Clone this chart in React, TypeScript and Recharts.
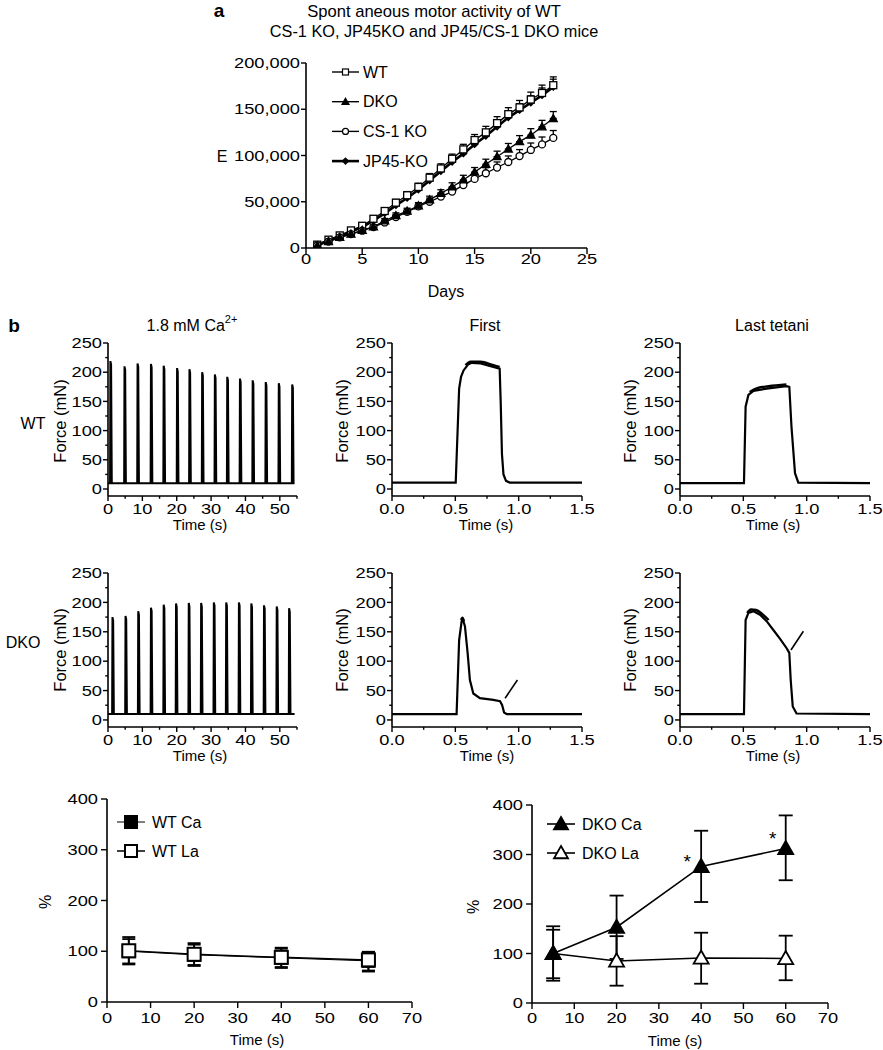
import React from "react";
import { LineChart, Line, XAxis, YAxis, ErrorBar, ReferenceLine } from "recharts";

const FONT = "'Liberation Sans', Arial, Helvetica, sans-serif";

// ---------- panel a : spontaneous motor activity (values in thousands) ----------
const days = [1, 2, 3, 4, 5, 6, 7, 8, 9, 10, 11, 12, 13, 14, 15, 16, 17, 18, 19, 20, 21, 22];
const wtE = [3.6, 9, 13.6, 19, 24, 31.6, 40, 49, 57, 66, 76, 86, 96.5, 106.6, 116.7, 125, 135, 144.7, 152, 160.5, 167.6, 176];
const wtErr = [1, 1.5, 2, 2, 2.5, 3, 3, 3.5, 4, 4, 4.5, 5, 5, 5.5, 6, 6.5, 7, 7, 7.5, 8, 8.5, 9];
const jp45E = [3.2, 8, 12.5, 17.5, 22.5, 29.5, 37.5, 46, 54, 63, 73, 83, 93, 102, 112, 121, 131, 141, 149, 157, 165, 174];
const jp45Err = [1, 1, 1.5, 2, 2, 2.5, 3, 3, 3.5, 4, 4, 4.5, 5, 5, 5.5, 6, 6, 6.5, 7, 7.5, 8, 8.5];
const dkoE = [2.5, 7, 11.5, 15, 19, 23, 29.4, 35, 40, 45.6, 52, 59, 66, 73.6, 82, 90.5, 98.7, 107, 115, 122, 131, 140];
const dkoErr = [0.8, 1, 1.5, 1.5, 2, 2, 2.5, 3, 3, 3.5, 4, 4, 4.5, 5, 5, 5.5, 6, 6, 6.5, 7, 7, 7.5];
const cs1E = [2.9, 7, 11.5, 15, 18.7, 22.6, 27.6, 33.4, 39, 45, 50, 55.6, 61, 68, 74.7, 80.8, 87, 93, 99.4, 106, 112, 119];
const cs1Err = [0.8, 1, 1.5, 1.5, 2, 2, 2.5, 3, 3, 3.5, 4, 4, 4.5, 5, 5.5, 6, 6, 6.5, 7, 7.5, 8, 8];

// ---------- panel b : force traces (mN) ----------
const wtTrainTimes = [0.6, 4.7, 8.5, 12.4, 16.1, 20, 23.6, 27.3, 31, 34.6, 38.3, 42, 45.8, 49.6, 53.5];
const wtTrainPeaks = [219, 210, 215, 214, 211, 207, 205, 200, 196, 192, 189, 186, 183, 181, 179];
const dkoTrainTimes = [1.2, 5, 8.7, 12.4, 16.1, 19.7, 23.4, 27, 30.7, 34.3, 38, 41.6, 45.3, 49, 52.6];
const dkoTrainPeaks = [175, 177, 185, 191, 196, 198, 199, 199, 200, 200, 200, 198, 195, 193, 190];
const trainBase = 10;

const wtFirstT = [0, 0.503, 0.53, 0.545, 0.565, 0.6, 0.63, 0.7, 0.8, 0.85, 0.858, 0.868, 0.88, 0.9, 0.93, 1.5];
const wtFirstF = [11, 11, 172, 192, 203, 213, 216, 215, 209, 206, 150, 60, 25, 14, 11, 11];
const wtFirstBandT = [0.58, 0.62, 0.7, 0.8, 0.85];
const wtFirstBandF = [212, 218, 218, 212, 209];

const wtLastT = [0, 0.505, 0.518, 0.54, 0.58, 0.684, 0.84, 0.863, 0.88, 0.908, 0.934, 1.5];
const wtLastF = [10, 10, 141, 161, 168, 172, 176, 175, 107, 27, 11, 10];
const wtLastBandT = [0.55, 0.6, 0.7, 0.84];
const wtLastBandF = [166, 172, 176, 179];

const dkoFirstT = [0, 0.51, 0.53, 0.55, 0.562, 0.576, 0.597, 0.615, 0.642, 0.694, 0.8, 0.853, 0.869, 0.885, 0.906, 1.5];
const dkoFirstF = [10, 10, 136, 168, 170, 159, 114, 68, 45, 37, 34, 32, 25.6, 12.5, 10, 10];
const dkoFirstBandT = [0.545, 0.556, 0.568];
const dkoFirstBandF = [170, 174, 168];

const dkoLastT = [0, 0.505, 0.518, 0.54, 0.58, 0.632, 0.684, 0.737, 0.79, 0.842, 0.863, 0.874, 0.89, 0.92, 1.5];
const dkoLastF = [10, 10, 170, 182, 185, 179, 168, 153, 138, 122, 114, 68, 23, 11, 10];
const dkoLastBandT = [0.53, 0.56, 0.6, 0.65, 0.7];
const dkoLastBandF = [182, 188, 187, 180, 170];

const arrowDkoFirst = [{ x: 0.893, y: 37 }, { x: 0.99, y: 68 }];
const arrowDkoLast = [{ x: 0.876, y: 119 }, { x: 0.974, y: 151 }];

// ---------- panel c : % change ----------
const cTimes = [5, 20, 40, 60];
const wtCa = [100, 93, 87, 81];
const wtCaErr = [[24, 24], [20, 20], [18, 18], [19, 17]];
const wtLa = [101, 94, 88, 83];
const wtLaErr = [[27, 27], [23, 22], [21, 19], [23, 16]];
const dkoCa = [100, 153, 276, 312];
const dkoCaErr = [[50, 48], [64, 64], [72, 72], [64, 67]];
const dkoLa = [100, 85, 91, 90];
const dkoLaErr = [[55, 55], [50, 50], [52, 51], [44, 46]];
const stars = [{ t: 36.7, v: 296 }, { t: 56.9, v: 343 }];

// ---------- tick sets ----------
const aXTicks = [0, 5, 10, 15, 20, 25];
const aYTicks = [0, 50000, 100000, 150000, 200000];
const forceMajor = [0, 50, 100, 150, 200, 250];
const forceMinor = [25, 75, 125, 175, 225];
const trainMajor = [0, 10, 20, 30, 40, 50];
const trainMinor = [5, 15, 25, 35, 45, 55];
const tetMajor = [0, 0.5, 1, 1.5];
const tetMinor = [0.25, 0.75, 1.25];
const cXTicks = [0, 10, 20, 30, 40, 50, 60, 70];
const cYTicks = [0, 100, 200, 300, 400];

const rowsA = days.map((d, i) => ({
  day: d,
  wt: wtE[i] * 1000, wtErr: [0, wtErr[i] * 1000],
  jp45: jp45E[i] * 1000, jp45Err: [0, jp45Err[i] * 1000],
  dko: dkoE[i] * 1000, dkoErr: [0, dkoErr[i] * 1000],
  cs1: cs1E[i] * 1000, cs1Err: [0, cs1Err[i] * 1000],
}));

const toPts = (ts: number[], fs: number[]) => ts.map((t, i) => ({ t, f: fs[i] }));

const trainPts = (times: number[], peaks: number[], end: number) => {
  const pts = [{ t: 0, f: trainBase }];
  times.forEach((t, i) => {
    pts.push({ t, f: trainBase }, { t: t + 0.1, f: peaks[i] }, { t: t + 0.3, f: peaks[i] - 6 }, { t: t + 0.5, f: trainBase });
  });
  pts.push({ t: end, f: trainBase });
  return pts;
};

const cRows = (vals: number[], errs: number[][]) => cTimes.map((t, i) => ({ t, v: vals[i], e: errs[i] }));

// ---------- helpers ----------
type Rect = { x0: number; x1: number; y0: number; y1: number };
const YW = 80, XH = 40, MT = 14, MR = 16, MB = 4;

const box = (r: Rect) => ({
  style: { position: "absolute" as const, left: r.x0 - YW, top: r.y0 - MT },
  width: r.x1 - r.x0 + YW + MR,
  height: r.y1 - r.y0 + MT + XH + MB,
  margin: { top: MT, right: MR, bottom: MB, left: 0 },
});

const TickLeft = (p: any) => {
  const { x, y, payload, majors, fs, fmt, ts, tm, sx } = p;
  const v = payload.value;
  const major = majors.includes(v);
  const ax = x + tm + ts;
  return (
    <g>
      <line x1={ax - (major ? ts : ts * 0.55)} x2={ax} y1={y} y2={y} stroke="#000" strokeWidth={1.4} />
      {major && (
        <text transform={`translate(${x},${y}) scale(${sx},1)`} dy="0.36em" textAnchor="end" fontSize={fs} fontFamily={FONT} fill="#000">
          {fmt(v)}
        </text>
      )}
    </g>
  );
};

const TickBottom = (p: any) => {
  const { x, y, payload, majors, fs, fmt, ts, tm, sx } = p;
  const v = payload.value;
  const major = majors.includes(v);
  const ay = y - tm - ts;
  return (
    <g>
      <line x1={x} x2={x} y1={ay} y2={ay + (major ? ts : ts * 0.55)} stroke="#000" strokeWidth={1.4} />
      {major && (
        <text transform={`translate(${x},${y}) scale(${sx},1)`} dy="0.72em" textAnchor="middle" fontSize={fs} fontFamily={FONT} fill="#000">
          {fmt(v)}
        </text>
      )}
    </g>
  );
};

const axisLine = { stroke: "#000", strokeWidth: 1.6 };

const yAx = (domain: number[], majors: number[], minors: number[], fmt: (v: number) => string, fs = 14.5, ts = 5, tm = 1) => (
  <YAxis
    type="number"
    domain={domain}
    ticks={[...majors, ...minors].sort((a, b) => a - b)}
    interval={0}
    width={YW}
    tickSize={ts}
    tickMargin={tm}
    tickLine={false}
    axisLine={axisLine}
    allowDataOverflow
    tick={(p: any) => <TickLeft {...p} majors={majors} fs={fs} fmt={fmt} ts={ts} tm={tm} sx={1.26} />}
  />
);

const xAx = (key: string, domain: number[], majors: number[], minors: number[], fmt: (v: number) => string, fs = 14.5, ts = 5, tm = 3) => (
  <XAxis
    dataKey={key}
    type="number"
    domain={domain}
    ticks={[...majors, ...minors].sort((a, b) => a - b)}
    interval={0}
    height={XH}
    tickSize={ts}
    tickMargin={tm}
    tickLine={false}
    axisLine={axisLine}
    allowDataOverflow
    tick={(p: any) => <TickBottom {...p} majors={majors} fs={fs} fmt={fmt} ts={ts} tm={tm} sx={1.26} />}
  />
);

const fmtComma = (v: number) => v.toLocaleString("en-US");
const fmtInt = (v: number) => String(v);
const fmt1 = (v: number) => v.toFixed(1);

type Shape = "square" | "triangle" | "circle" | "diamond";

const Marker = ({ cx, cy, shape, size, filled, sw = 1.3 }: { cx: number; cy: number; shape: Shape; size: number; filled: boolean; sw?: number }) => {
  const h = size / 2;
  const fill = filled ? "#000" : "#fff";
  if (shape === "square") return <rect x={cx - h} y={cy - h} width={size} height={size} fill={fill} stroke="#000" strokeWidth={sw} />;
  if (shape === "circle") return <circle cx={cx} cy={cy} r={h} fill={fill} stroke="#000" strokeWidth={sw} />;
  if (shape === "diamond")
    return <polygon points={`${cx},${cy - h} ${cx + h},${cy} ${cx},${cy + h} ${cx - h},${cy}`} fill={fill} stroke="#000" strokeWidth={sw} />;
  return <polygon points={`${cx},${cy - h} ${cx + h},${cy + h * 0.75} ${cx - h},${cy + h * 0.75}`} fill={fill} stroke="#000" strokeWidth={sw} strokeLinejoin="miter" />;
};

const dotOf = (id: string, shape: Shape, size: number, filled: boolean, sw = 1.3) => (p: any) => (
  <Marker key={`${id}-${p.index}`} cx={p.cx} cy={p.cy} shape={shape} size={size} filled={filled} sw={sw} />
);

const StarDot = (p: any) => (
  <text key={`star-${p.index}`} x={p.cx} y={p.cy} dy="0.62em" textAnchor="middle" fontSize={19} fontFamily={FONT} fill="#000">
    *
  </text>
);

const T = ({ x, y, children, fs = 16, anchor = "middle", rot = false, bold = false, sx = 1 }: any) => (
  <text
    transform={rot ? `translate(${x},${y}) rotate(-90)` : `translate(${x},${y}) scale(${sx},1)`}
    textAnchor={anchor}
    dominantBaseline="central"
    fontSize={fs}
    fontWeight={bold ? 700 : 400}
    fontFamily={FONT}
    fill="#000"
  >
    {children}
  </text>
);

const legendA = [
  { name: "WT", shape: "square" as Shape, size: 6, filled: false, lw: 1.4 },
  { name: "DKO", shape: "triangle" as Shape, size: 7, filled: true, lw: 1.4 },
  { name: "CS-1 KO", shape: "circle" as Shape, size: 6, filled: false, lw: 1.4 },
  { name: "JP45-KO", shape: "diamond" as Shape, size: 6, filled: true, lw: 2.6 },
];
const legendC1 = [
  { name: "WT Ca", shape: "square" as Shape, size: 12, filled: true, lw: 1 },
  { name: "WT La", shape: "square" as Shape, size: 12, filled: false, lw: 1.5 },
];
const legendC2 = [
  { name: "DKO Ca", shape: "triangle" as Shape, size: 14, filled: true, lw: 1.6 },
  { name: "DKO La", shape: "triangle" as Shape, size: 14, filled: false, lw: 1.6 },
];

const Legend = ({ items, x0, x1, tx, y0, dy, fs, sw }: any) => (
  <g>
    {items.map((it: any, i: number) => {
      const y = y0 + i * dy;
      return (
        <g key={it.name}>
          <line x1={x0} x2={x1} y1={y} y2={y} stroke="#000" strokeWidth={it.lw} />
          <Marker cx={(x0 + x1) / 2} cy={y} shape={it.shape} size={it.size} filled={it.filled} sw={sw} />
          <T x={tx} y={y} anchor="start" fs={fs}>
            {it.name}
          </T>
        </g>
      );
    })}
  </g>
);

// ---------- plot rectangles ----------
const RA: Rect = { x0: 306, x1: 587, y0: 63, y1: 248 };
const RB1: Rect = { x0: 108, x1: 297, y0: 343, y1: 496 };
const RB2: Rect = { x0: 392, x1: 582, y0: 343, y1: 496 };
const RB3: Rect = { x0: 680, x1: 870, y0: 343, y1: 496 };
const RB4: Rect = { x0: 108, x1: 297, y0: 573, y1: 727 };
const RB5: Rect = { x0: 392, x1: 582, y0: 573, y1: 727 };
const RB6: Rect = { x0: 680, x1: 870, y0: 573, y1: 727 };
const RC1: Rect = { x0: 107, x1: 412, y0: 799, y1: 1002 };
const RC2: Rect = { x0: 532, x1: 828, y0: 805, y1: 1003 };

const TRACE = { stroke: "#000", strokeWidth: 2.2, dot: false, activeDot: false, isAnimationActive: false, type: "linear" as const };

const TrainChart = ({ r, times, peaks }: { r: Rect; times: number[]; peaks: number[] }) => {
  const b = box(r);
  return (
    <div style={b.style}>
      <LineChart width={b.width} height={b.height} margin={b.margin}>
        {xAx("t", [0, 55], trainMajor, trainMinor, fmtInt)}
        {yAx([-12, 250], forceMajor, forceMinor, fmtInt)}
        <Line data={trainPts(times, peaks, 54.3)} dataKey="f" {...TRACE} strokeWidth={2} />
      </LineChart>
    </div>
  );
};

const TetChart = ({ r, pts, band, arrow }: { r: Rect; pts: any[]; band: any[]; arrow?: { x: number; y: number }[] }) => {
  const b = box(r);
  return (
    <div style={b.style}>
      <LineChart width={b.width} height={b.height} margin={b.margin}>
        {xAx("t", [0, 1.5], tetMajor, tetMinor, fmt1)}
        {yAx([-12, 250], forceMajor, forceMinor, fmtInt)}
        <Line data={pts} dataKey="f" {...TRACE} />
        <Line data={band} dataKey="f" {...TRACE} type="monotone" strokeWidth={2.4} />
        {arrow && <ReferenceLine segment={arrow} stroke="#000" strokeWidth={1.6} ifOverflow="visible" />}
      </LineChart>
    </div>
  );
};

export default function App() {
  const a = box(RA);
  const c1 = box(RC1);
  const c2 = box(RC2);
  return (
    <div style={{ position: "absolute", left: 0, top: 0, width: 883, height: 1050, background: "#fff", fontFamily: FONT }}>
      {/* panel a */}
      <div style={a.style}>
        <LineChart width={a.width} height={a.height} margin={a.margin} data={rowsA}>
          {xAx("day", [0, 25], aXTicks, [], fmtInt, 14.5, 6, 0)}
          {yAx([0, 200000], aYTicks, [], fmtComma, 14.5, 5, 1)}
          <Line dataKey="jp45" stroke="#000" strokeWidth={2.6} dot={dotOf("jp", "diamond", 6, true)} activeDot={false} isAnimationActive={false}>
            <ErrorBar dataKey="jp45Err" width={3.5} stroke="#000" strokeWidth={1.3} direction="y" />
          </Line>
          <Line dataKey="wt" stroke="#000" strokeWidth={1.3} dot={dotOf("wt", "square", 7, false)} activeDot={false} isAnimationActive={false}>
            <ErrorBar dataKey="wtErr" width={3.5} stroke="#000" strokeWidth={1.3} direction="y" />
          </Line>
          <Line dataKey="cs1" stroke="#000" strokeWidth={1.3} dot={dotOf("cs", "circle", 7, false)} activeDot={false} isAnimationActive={false}>
            <ErrorBar dataKey="cs1Err" width={3.5} stroke="#000" strokeWidth={1.3} direction="y" />
          </Line>
          <Line dataKey="dko" stroke="#000" strokeWidth={1.3} dot={dotOf("dk", "triangle", 8, true)} activeDot={false} isAnimationActive={false}>
            <ErrorBar dataKey="dkoErr" width={3.5} stroke="#000" strokeWidth={1.3} direction="y" />
          </Line>
        </LineChart>
      </div>

      {/* panel b */}
      <TrainChart r={RB1} times={wtTrainTimes} peaks={wtTrainPeaks} />
      <TetChart r={RB2} pts={toPts(wtFirstT, wtFirstF)} band={toPts(wtFirstBandT, wtFirstBandF)} />
      <TetChart r={RB3} pts={toPts(wtLastT, wtLastF)} band={toPts(wtLastBandT, wtLastBandF)} />
      <TrainChart r={RB4} times={dkoTrainTimes} peaks={dkoTrainPeaks} />
      <TetChart r={RB5} pts={toPts(dkoFirstT, dkoFirstF)} band={toPts(dkoFirstBandT, dkoFirstBandF)} arrow={arrowDkoFirst} />
      <TetChart r={RB6} pts={toPts(dkoLastT, dkoLastF)} band={toPts(dkoLastBandT, dkoLastBandF)} arrow={arrowDkoLast} />

      {/* panel c, WT */}
      <div style={c1.style}>
        <LineChart width={c1.width} height={c1.height} margin={c1.margin}>
          {xAx("t", [0, 70], cXTicks, [], fmtInt, 14.5, 6, 5)}
          {yAx([0, 400], cYTicks, [], fmtInt, 14.5, 6, 3)}
          <Line data={cRows(wtCa, wtCaErr)} dataKey="v" stroke="#000" strokeWidth={1} dot={dotOf("wca", "square", 12, true, 2)} activeDot={false} isAnimationActive={false}>
            <ErrorBar dataKey="e" width={6.5} stroke="#000" strokeWidth={1.8} direction="y" />
          </Line>
          <Line data={cRows(wtLa, wtLaErr)} dataKey="v" stroke="#000" strokeWidth={1.5} dot={dotOf("wla", "square", 13, false, 2)} activeDot={false} isAnimationActive={false}>
            <ErrorBar dataKey="e" width={6.5} stroke="#000" strokeWidth={1.8} direction="y" />
          </Line>
        </LineChart>
      </div>

      {/* panel c, DKO */}
      <div style={c2.style}>
        <LineChart width={c2.width} height={c2.height} margin={c2.margin}>
          {xAx("t", [0, 70], cXTicks, [], fmtInt, 14.5, 6, 4)}
          {yAx([0, 400], cYTicks, [], fmtInt, 14.5, 6, 3)}
          <Line data={cRows(dkoLa, dkoLaErr)} dataKey="v" stroke="#000" strokeWidth={1.6} dot={dotOf("dla", "triangle", 15, false, 1.8)} activeDot={false} isAnimationActive={false}>
            <ErrorBar dataKey="e" width={7} stroke="#000" strokeWidth={1.8} direction="y" />
          </Line>
          <Line data={cRows(dkoCa, dkoCaErr)} dataKey="v" stroke="#000" strokeWidth={1.6} dot={dotOf("dca", "triangle", 15, true, 1.8)} activeDot={false} isAnimationActive={false}>
            <ErrorBar dataKey="e" width={7} stroke="#000" strokeWidth={1.8} direction="y" />
          </Line>
          <Line data={stars} dataKey="v" stroke="none" dot={StarDot} activeDot={false} isAnimationActive={false} />
        </LineChart>
      </div>

      {/* labels, titles and legends */}
      <svg width={883} height={1050} style={{ position: "absolute", left: 0, top: 0, pointerEvents: "none" }}>
        <T x={219} y={10} fs={19} bold>a</T>
        <T x={434} y={11} fs={16.6}>Spont aneous motor activity of WT</T>
        <T x={434} y={31} fs={16.3}>CS-1 KO, JP45KO and JP45/CS-1 DKO mice</T>
        <T x={222} y={156} fs={16}>E</T>
        <T x={446} y={291} fs={16}>Days</T>
        <Legend items={legendA} x0={332} x1={359} tx={363} y0={72} dy={29.7} fs={16} sw={1.2} />

        <T x={14} y={325} fs={19} bold>b</T>
        <text x={192} y={325} textAnchor="middle" dominantBaseline="central" fontSize={16} fontFamily={FONT} fill="#000">
          1.8 mM Ca<tspan dy="-6" fontSize={11}>2+</tspan>
        </text>
        <T x={485} y={325} fs={16}>First</T>
        <T x={772} y={325} fs={16}>Last tetani</T>
        <T x={33} y={423} fs={16}>WT</T>
        <T x={23} y={642} fs={16}>DKO</T>

        <T x={60} y={421} fs={16.5} rot>Force (mN)</T>
        <T x={342} y={421} fs={16.5} rot>Force (mN)</T>
        <T x={630} y={421} fs={16.5} rot>Force (mN)</T>
        <T x={60} y={650} fs={16.5} rot>Force (mN)</T>
        <T x={342} y={650} fs={16.5} rot>Force (mN)</T>
        <T x={630} y={650} fs={16.5} rot>Force (mN)</T>

        <T x={200} y={524} fs={15}>Time (s)</T>
        <T x={486} y={524} fs={15}>Time (s)</T>
        <T x={773} y={524} fs={15}>Time (s)</T>
        <T x={200} y={755} fs={15}>Time (s)</T>
        <T x={487} y={755} fs={15}>Time (s)</T>
        <T x={773} y={755} fs={15}>Time (s)</T>

        <T x={45} y={902} fs={16} rot>%</T>
        <T x={257} y={1039} fs={15}>Time (s)</T>
        <Legend items={legendC1} x0={117} x1={145} tx={152} y0={822} dy={29} fs={16} sw={2} />

        <T x={473} y={907} fs={16} rot>%</T>
        <T x={675} y={1040} fs={15}>Time (s)</T>
        <Legend items={legendC2} x0={547} x1={575} tx={582} y0={824} dy={29} fs={16} sw={1.8} />
      </svg>
    </div>
  );
}
